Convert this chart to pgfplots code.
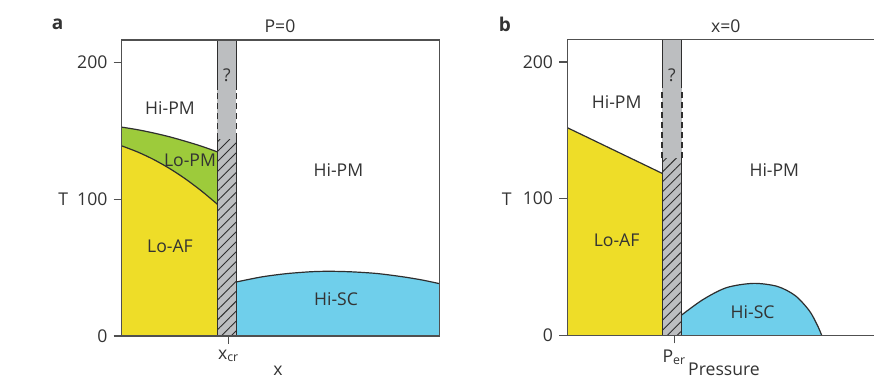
\documentclass[border=0pt]{standalone}
\usepackage{fontspec}
\setmainfont{Open Sans}
\usepackage{pgfplots}
\pgfplotsset{compat=1.18}
\usetikzlibrary{patterns.meta}
\definecolor{cyel}{HTML}{EEDD28}
\definecolor{cgreen}{HTML}{9DCB3B}
\definecolor{cblue}{HTML}{6FCFEB}
\definecolor{cgray}{HTML}{BCBEC0}
\definecolor{cline}{HTML}{2E2E2E}
\definecolor{cax}{HTML}{505050}
\definecolor{ctext}{HTML}{333333}
\tikzset{lab/.style={text=ctext, font=\fontsize{8.8}{10.5}\selectfont}}
\begin{document}
\fontsize{8.8}{10.5}\selectfont
\begin{tikzpicture}[x=0.5pt,y=0.5pt]
\path[use as bounding box] (0,0) rectangle (874,379);
\pgfplotsset{
  phase/.style={scale only axis, ymin=0, ymax=216.4, ytick={0,100,200},
    ytick pos=left, xtick pos=bottom, tick align=outside, major tick length=4pt,
    axis line style={cax, line width=0.6pt}, tick style={cax, line width=0.6pt},
    /pgf/number format/assume math mode=true,
    ticklabel style={font=\fontsize{8.8}{10}\selectfont, text=ctext},
    clip=false, axis on top},
  bnd/.style={cline, line width=0.6pt, smooth},
  edge/.style={cline, line width=0.7pt},
  dedge/.style={cline, line width=0.9pt, dash pattern=on 3pt off 2pt}
}
% ---------------- panel a ----------------
\begin{axis}[phase, at={(60.85pt,21.5pt)}, anchor=south west, width=158.8pt, height=148pt,
  xmin=0, xmax=317.6, xtick={107}, xticklabels={x\textsubscript{cr}}]
\addplot[fill=cgreen, draw=none, smooth] coordinates {(0,152.7)(16,150.8)(32,148.4)(48,145.6)(64,142.3)(80,138.7)(95.7,134.6)} \closedcycle;
\addplot[fill=cyel, draw=none, smooth] coordinates {(0,139)(16,134.5)(32,129.0)(48,122.4)(64,114.7)(80,105.9)(95.7,96.3)} \closedcycle;
\addplot[fill=cblue, draw=none, smooth] coordinates {(114.7,39.5)(140,43.2)(165,45.6)(190,47.0)(208.3,47.3)(230,46.9)(255,45.7)(280,43.4)(300,41.0)(317.6,38.3)} \closedcycle;
\addplot[fill=cgray, draw=none] coordinates {(95.7,0)(95.7,216.4)(114.7,216.4)(114.7,0)};
\addplot[pattern={Lines[angle=45,distance=3.5pt,line width=0.45pt]}, pattern color=cline, draw=none] coordinates {(95.7,0)(95.7,143.7)(114.7,143.7)(114.7,0)};
\addplot[bnd] coordinates {(0,139)(16,134.5)(32,129.0)(48,122.4)(64,114.7)(80,105.9)(95.7,96.3)};
\addplot[bnd] coordinates {(0,152.7)(16,150.8)(32,148.4)(48,145.6)(64,142.3)(80,138.7)(95.7,134.6)};
\addplot[bnd] coordinates {(114.7,39.5)(140,43.2)(165,45.6)(190,47.0)(208.3,47.3)(230,46.9)(255,45.7)(280,43.4)(300,41.0)(317.6,38.3)};
\addplot[edge] coordinates {(95.7,0)(95.7,143.7)};
\addplot[edge] coordinates {(114.7,0)(114.7,143.7)};
\addplot[dedge] coordinates {(95.7,143.7)(95.7,180)};
\addplot[dedge] coordinates {(114.7,143.7)(114.7,180)};
\addplot[edge] coordinates {(95.7,180)(95.7,216.4)};
\addplot[edge] coordinates {(114.7,180)(114.7,216.4)};
\node[lab] at (axis cs:48.3,167) {Hi-PM};
\node[lab] at (axis cs:68.3,128.5) {Lo-PM};
\node[lab] at (axis cs:48.3,65.6) {Lo-AF};
\node[lab] at (axis cs:216.7,121) {Hi-PM};
\node[lab] at (axis cs:214.3,26.8) {Hi-SC};
\node[lab] at (axis cs:105.2,190.7) {?};
\end{axis}
% ---------------- panel b ----------------
\begin{axis}[phase, at={(283.65pt,21.85pt)}, anchor=south west, width=156.35pt, height=147.8pt,
  xmin=0, xmax=312.7, xtick={107}, xticklabels={P\textsubscript{er}}]
\addplot[fill=cyel, draw=none] coordinates {(0,0)(0,152)(95,118.5)(95,0)};
\addplot[fill=cblue, draw=none, smooth] coordinates {(114.4,14.9)(136,26.3)(159.3,34.9)(186,38)(210,35.8)(228,29)(242,18)(250,7.5)(254.4,0)} \closedcycle;
\addplot[fill=cgray, draw=none] coordinates {(95,0)(95,216.4)(114.4,216.4)(114.4,0)};
\addplot[pattern={Lines[angle=45,distance=3.5pt,line width=0.45pt]}, pattern color=cline, draw=none] coordinates {(95,0)(95,129.5)(114.4,129.5)(114.4,0)};
\addplot[cline, line width=0.6pt] coordinates {(0,152)(95,118.5)};
\addplot[bnd] coordinates {(114.4,14.9)(136,26.3)(159.3,34.9)(186,38)(210,35.8)(228,29)(242,18)(250,7.5)(254.4,0)};
\addplot[edge] coordinates {(95,0)(95,129.5)};
\addplot[edge] coordinates {(114.4,0)(114.4,129.5)};
\addplot[dedge] coordinates {(95,129.5)(95,180.7)};
\addplot[dedge] coordinates {(114.4,129.5)(114.4,180.7)};
\addplot[edge] coordinates {(95,180.7)(95,216.4)};
\addplot[edge] coordinates {(114.4,180.7)(114.4,216.4)};
\node[lab] at (axis cs:49.3,171) {Hi-PM};
\node[lab] at (axis cs:49.3,69.3) {Lo-AF};
\node[lab] at (axis cs:207,121) {Hi-PM};
\node[lab] at (axis cs:185.3,16.6) {Hi-SC};
\node[lab] at (axis cs:104.7,190.5) {?};
\end{axis}
% ---------------- outer labels ----------------
\node[lab, font=\fontsize{9.5}{11}\selectfont\bfseries] at (57.7,355) {a};
\node[lab] at (280,353) {P=0};
\node[lab] at (63.3,180) {T};
\node[lab, anchor=base, inner sep=0pt] at (278,3) {x};
\node[lab, font=\fontsize{9.5}{11}\selectfont\bfseries] at (505,355) {b};
\node[lab] at (725.7,353) {x=0};
\node[lab] at (506.7,180) {T};
\node[lab, anchor=base, inner sep=0pt] at (724,3) {Pressure};
\end{tikzpicture}
\end{document}
